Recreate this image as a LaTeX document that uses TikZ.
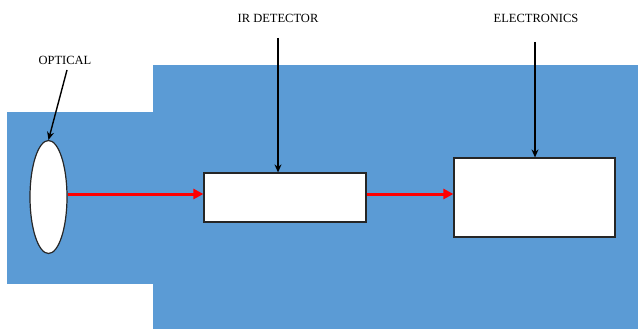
\documentclass[tikz,border=0pt]{standalone}
\usepackage{fontspec}
\setmainfont{Liberation Serif}
\usetikzlibrary{arrows.meta,shapes.geometric}
\definecolor{panel}{HTML}{5B9BD5}
\begin{document}
\begin{tikzpicture}[x=1pt,y=-1pt,
  lbl/.style={font=\fontsize{12.5}{14}\selectfont, inner sep=0pt},
  whitebox/.style={draw=black!85, fill=white, line width=1.2pt},
  pointer/.style={draw=black, line width=1.4pt, -{Stealth[length=8pt,width=7pt]}},
  beam/.style={draw=red, line width=3pt, -{Triangle[length=10pt,width=10pt]}}]
\useasboundingbox (0,0) rectangle (638,329);
\fill[panel] (7,112) rectangle (154,284);
\fill[panel] (153,65) rectangle (638,329);
\node[whitebox, ellipse, minimum width=37pt, minimum height=113pt, inner sep=0pt] (lens) at (48.5,197) {};
\node[whitebox, rectangle, minimum width=162pt, minimum height=49pt, inner sep=0pt] (ir) at (285,197.5) {};
\node[whitebox, rectangle, minimum width=161pt, minimum height=79pt, inner sep=0pt] (el) at (534.5,197.5) {};
\node[lbl] (lopt) at (65,60) {OPTICAL};
\node[lbl] (lir) at (278,18) {IR DETECTOR};
\node[lbl] (lel) at (536,18) {ELECTRONICS};
\coordinate (sopt) at (67,70);
\coordinate (sir) at (278,38);
\coordinate (sel) at (535,42);
\draw[pointer] (sopt) -- (lens.north);
\draw[pointer] (sir) -- (ir.north -| sir);
\draw[pointer] (sel) -- (el.north -| sel);
\draw[beam] (lens.east |- 0,194) -- (ir.west |- 0,194);
\draw[beam] (ir.east |- 0,194) -- (el.west |- 0,194);
\end{tikzpicture}
\end{document}
